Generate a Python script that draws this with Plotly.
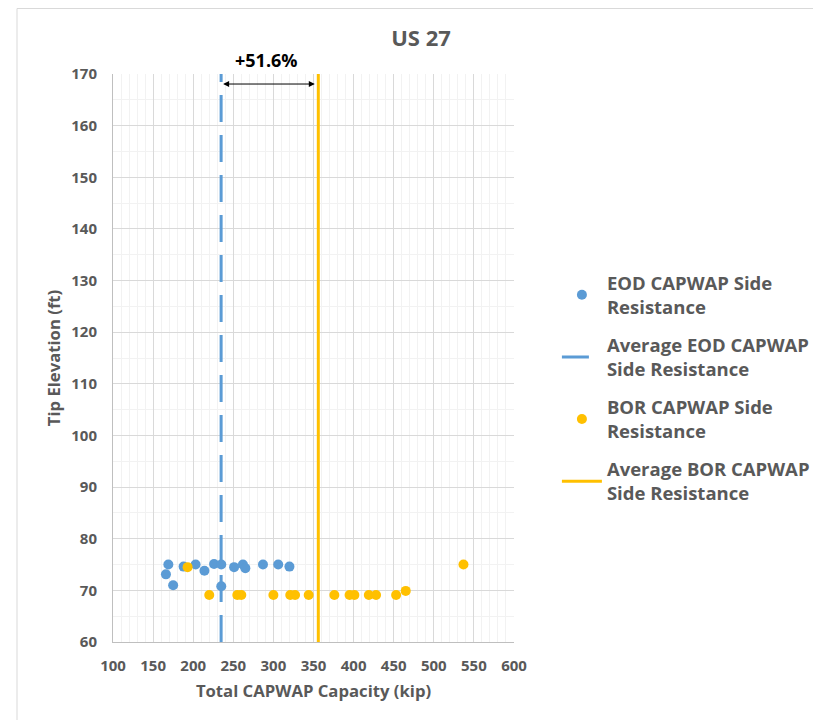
import plotly.graph_objects as go

# EOD CAPWAP side resistance (kip, ft)
eod_capacity = [166, 169, 175, 188, 203, 214, 226, 235, 235, 251, 262, 265, 287, 306, 320]
eod_elevation = [73.1, 75.0, 71.0, 74.6, 75.0, 73.8, 75.1, 75.0, 70.8, 74.5, 75.0, 74.3, 75.0, 75.0, 74.6]

# BOR CAPWAP side resistance (kip, ft)
bor_capacity = [193, 220, 255, 260, 300, 321, 327, 344, 376, 395, 401, 419, 428, 453, 465, 537]
bor_elevation = [74.5, 69.1, 69.1, 69.1, 69.1, 69.1, 69.1, 69.1, 69.1, 69.1, 69.1, 69.1, 69.1, 69.1, 69.9, 75.0]

eod_average = 234.8
bor_average = 356.0
elev_span = [60, 170]

blue = '#5b9bd5'
orange = '#ffc000'
grey = '#595959'
font_family = 'Open Sans, Liberation Sans, sans-serif'

fig = go.Figure()

fig.add_trace(go.Scatter(x=eod_capacity, y=eod_elevation, mode='markers',
                         name='<b>EOD CAPWAP Side<br>Resistance</b>', legendgroup='a',
                         marker=dict(color=blue, size=10)))
fig.add_trace(go.Scatter(x=[eod_average, eod_average], y=elev_span, mode='lines',
                         name='<b>Average EOD CAPWAP<br>Side Resistance</b>', legendgroup='b',
                         line=dict(color=blue, width=3, dash='27px,13px')))
fig.add_trace(go.Scatter(x=bor_capacity, y=bor_elevation, mode='markers',
                         name='<b>BOR CAPWAP Side<br>Resistance</b>', legendgroup='c',
                         marker=dict(color=orange, size=10)))
fig.add_trace(go.Scatter(x=[bor_average, bor_average], y=elev_span, mode='lines',
                         name='<b>Average BOR CAPWAP<br>Side Resistance</b>', legendgroup='d',
                         line=dict(color=orange, width=3)))

# percentage increase arrow
pct = (bor_average / eod_average - 1) * 100
fig.add_annotation(x=eod_average, y=168.06, ax=bor_average, ay=168.06,
                   xref='x', yref='y', axref='x', ayref='y', text='',
                   showarrow=True, arrowhead=2, arrowside='end+start',
                   arrowsize=1.2, arrowwidth=1, arrowcolor='black',
                   startstandoff=2, standoff=2)
fig.add_annotation(x=290.8, y=1.0246, xref='x', yref='paper', yanchor='middle', xanchor='center',
                   text=f'<b>+{pct:.1f}%</b>', showarrow=False,
                   font=dict(size=18, color='black'))

# chart area border
fig.add_shape(type='rect', xref='paper', yref='paper', x0=-0.2394, y0=-0.5, x1=2, y1=1.1153,
              line=dict(color='#d9d9d9', width=1), layer='below')

tick_font = dict(family=font_family, size=15, color=grey)

fig.update_layout(
    width=821, height=720,
    margin=dict(l=105, r=315, t=66, b=86),
    paper_bgcolor='white', plot_bgcolor='white',
    font=dict(family=font_family, color=grey),
    title=dict(text='<b>US 27</b>', x=413 / 821, xanchor='center', y=1 - 30 / 720, yanchor='middle',
               font=dict(size=22, color=grey)),
    xaxis=dict(range=[100, 600], dtick=50, tick0=100, showline=True, linecolor='#bfbfbf', linewidth=1,
               gridcolor='#d9d9d9', zeroline=False, tickfont=tick_font, ticks='', ticklabelstandoff=10,
               tickprefix='<b>', ticksuffix='</b>',
               minor=dict(dtick=10, showgrid=True, gridcolor='#f2f2f2'),
               title=dict(text='<b>Total CAPWAP Capacity (kip)</b>', font=dict(size=16.7, color=grey), standoff=11)),
    yaxis=dict(range=[60, 170], dtick=10, tick0=60, showline=True, linecolor='#bfbfbf', linewidth=1,
               gridcolor='#d9d9d9', zeroline=False, tickfont=tick_font, ticks='', ticklabelstandoff=12,
               tickprefix='<b>', ticksuffix='</b>',
               minor=dict(dtick=5, showgrid=True, gridcolor='#f2f2f2'),
               title=dict(text='<b>Tip Elevation (ft)</b>', font=dict(size=16.7, color=grey), standoff=6)),
    legend=dict(x=1.107, y=0.665, xanchor='left', yanchor='top',
                font=dict(size=18.5, color=grey), tracegroupgap=11, itemwidth=40),
    showlegend=True,
)

fig.write_html('out.html')
